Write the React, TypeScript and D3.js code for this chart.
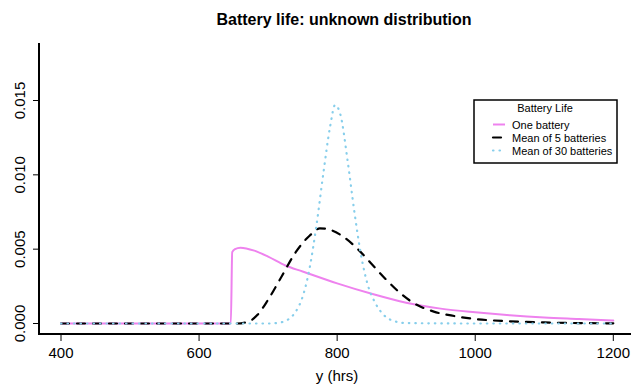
import React from "react";
import * as d3 from "d3";

// densities, x in hours
const xOne = [400, 500, 600, 646, 648, 652, 660, 680, 700, 725, 750, 800, 850, 900, 950, 1000, 1050, 1100, 1150, 1200];
const yOne = [0, 0, 0, 0, 0.0048, 0.005, 0.0051, 0.0049, 0.0045, 0.0039, 0.0035, 0.0027, 0.002, 0.0014, 0.001, 0.00075, 0.00055, 0.0004, 0.0003, 0.0002];

const xFive = [400, 500, 600, 655, 670, 685, 700, 720, 740, 760, 775, 790, 810, 830, 850, 870, 890, 910, 940, 970, 1000, 1050, 1100, 1150, 1200];
const yFive = [0, 0, 0, 0, 0.0001, 0.0006, 0.0016, 0.0032, 0.0048, 0.0059, 0.0064, 0.0063, 0.0058, 0.005, 0.004, 0.003, 0.0021, 0.0014, 0.0008, 0.0005, 0.0003, 0.00015, 0.00007, 0.00003, 0.00001];

const xThirty = [400, 500, 600, 700, 715, 730, 740, 750, 760, 770, 780, 790, 797, 805, 815, 825, 835, 845, 855, 865, 880, 900, 1000, 1100, 1200];
const yThirty = [0, 0, 0, 0, 0.00005, 0.0003, 0.0008, 0.0018, 0.0037, 0.0066, 0.0101, 0.0133, 0.0147, 0.014, 0.011, 0.0075, 0.0045, 0.0025, 0.0014, 0.0007, 0.0002, 0.00003, 0, 0, 0];

const xTicks = [400, 600, 800, 1000, 1200];
const yTicks = [0, 0.005, 0.01, 0.015];

const legendTitle = "Battery Life";
const legendLabels = ["One battery", "Mean of 5 batteries", "Mean of 30 batteries"];

const W = 631;
const H = 387;
const FONT = "'Liberation Sans', Arial, sans-serif";

const series = [
  { xs: xOne, ys: yOne, color: "#ee82ee", width: 2, dash: undefined as string | undefined },
  { xs: xFive, ys: yFive, color: "#000000", width: 2.2, dash: "8,8" },
  { xs: xThirty, ys: yThirty, color: "#87ceeb", width: 2.2, dash: "0.5,6" },
];

export default function App() {
  const x = d3.scaleLinear().domain([400, 1200]).range([61, 613.3]);
  const y = d3.scaleLinear().domain([0, 0.015]).range([323.5, 100.5]);

  const line = d3
    .line<[number, number]>()
    .x((d) => x(d[0]))
    .y((d) => y(d[1]))
    .curve(d3.curveMonotoneX);

  const axisX = 39;
  const axisY = 334;

  return (
    <svg width={W} height={H} style={{ position: "absolute", left: 0, top: 0, background: "#fff" }}>
      <rect width={W} height={H} fill="#fff" />
      <text x={344} y={25} textAnchor="middle" fontFamily={FONT} fontWeight="bold" fontSize={16}>
        Battery life: unknown distribution
      </text>

      {series.map((s, i) => (
        <path
          key={i}
          d={line(s.xs.map((v, j) => [v, s.ys[j]] as [number, number])) || ""}
          fill="none"
          stroke={s.color}
          strokeWidth={s.width}
          strokeDasharray={s.dash}
          strokeLinecap="round"
          strokeLinejoin="round"
        />
      ))}

      {/* axes, L-shaped */}
      <line x1={axisX} x2={axisX} y1={43} y2={axisY} stroke="#000" strokeWidth={2} />
      <line x1={axisX - 1} x2={W} y1={axisY} y2={axisY} stroke="#000" strokeWidth={2} />

      {xTicks.map((t) => (
        <g key={t}>
          <line x1={x(t)} x2={x(t)} y1={axisY} y2={axisY + 7} stroke="#000" strokeWidth={1} />
          <text x={x(t)} y={358} textAnchor="middle" fontFamily={FONT} fontSize={15}>
            {t}
          </text>
        </g>
      ))}
      <text x={337} y={381} textAnchor="middle" fontFamily={FONT} fontSize={15}>
        y (hrs)
      </text>

      {yTicks.map((t) => (
        <g key={t}>
          <line x1={axisX - 6} x2={axisX} y1={y(t)} y2={y(t)} stroke="#000" strokeWidth={1} />
          <text
            transform={`translate(25,${y(t)}) rotate(-90)`}
            textAnchor="middle"
            fontFamily={FONT}
            fontSize={15}
          >
            {d3.format(".3f")(t)}
          </text>
        </g>
      ))}

      {/* legend */}
      <g>
        <rect x={474} y={100} width={143} height={63} fill="#fff" stroke="#000" strokeWidth={1.5} />
        <text x={545} y={112} textAnchor="middle" fontFamily={FONT} fontSize={11}>
          {legendTitle}
        </text>
        {legendLabels.map((lab, i) => {
          const s = series[i];
          const ly = 124.5 + i * 13;
          return (
            <g key={lab}>
              <line
                x1={493}
                x2={505}
                y1={ly}
                y2={ly}
                stroke={s.color}
                strokeWidth={s.width}
                strokeDasharray={s.dash}
                strokeLinecap={s.dash ? "round" : "butt"}
              />
              <text x={512} y={ly + 4} fontFamily={FONT} fontSize={11}>
                {lab}
              </text>
            </g>
          );
        })}
      </g>
    </svg>
  );
}
